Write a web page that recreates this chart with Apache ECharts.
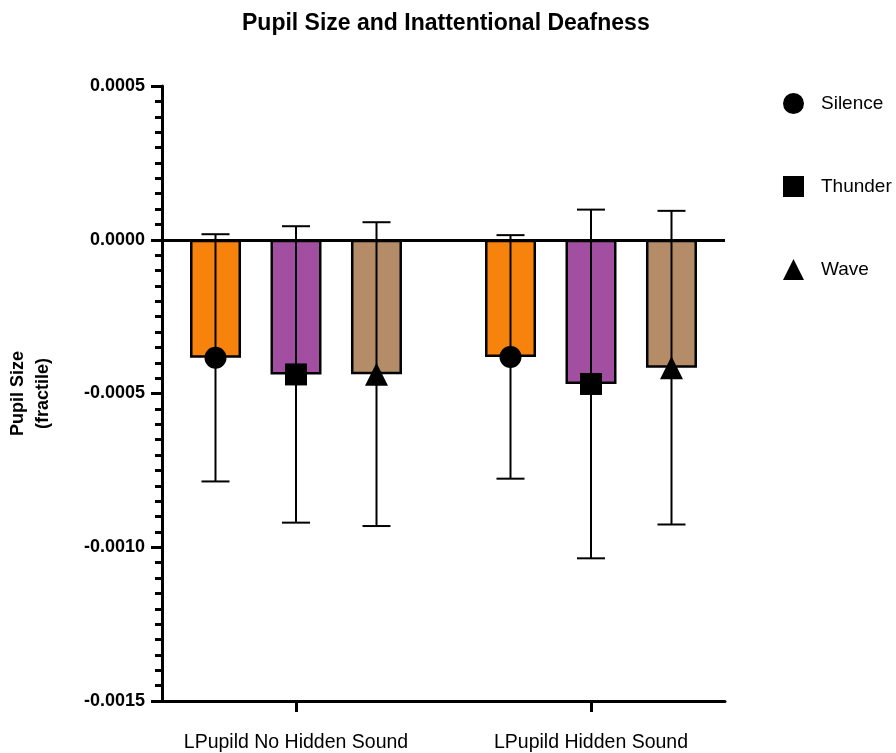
<!DOCTYPE html>
<html>
<head>
<meta charset="utf-8">
<script src="https://cdn.jsdelivr.net/npm/echarts@6/dist/echarts.min.js"></script>
<style>html,body{margin:0;padding:0;background:#fff;}#c{width:896px;height:753px;}</style>
</head>
<body>
<div id="c"></div>
<script>
const categories = ['LPupild No Hidden Sound', 'LPupild Hidden Sound'];
const seriesNames = ['Silence', 'Thunder', 'Wave'];
const silenceMean = [-0.000384, -0.000381];
const silenceErr = [0.000402, 0.000396];
const thunderMean = [-0.000438, -0.000469];
const thunderErr = [0.000482, 0.000567];
const waveMean = [-0.000437, -0.000416];
const waveErr = [0.000494, 0.000510];
const yTicks = [-0.0015, -0.0010, -0.0005, 0.0000, 0.0005];

const means = [silenceMean, thunderMean, waveMean];
const errs = [silenceErr, thunderErr, waveErr];
const colors = ['#F8830C', '#A24FA2', '#B48D68'];
const symbols = ['circle', 'rect', 'triangle'];
const symSizes = [22, 22, 23];
const offsets = [-80.5, 0, 80.5];
const FONT = 'Arial, "Liberation Sans", Helvetica, sans-serif';

const chart = echarts.init(document.getElementById('c'));
const series = [];
seriesNames.forEach((name, i) => {
  const bar = {
    name: name + ' bar',
    type: 'bar',
    barWidth: 51,
    barGap: '57.8%',
    data: categories.map((c, j) => [j + 1, means[i][j]]),
    itemStyle: { color: colors[i], borderColor: '#000', borderWidth: 2.5 },
    z: 2,
    silent: true
  };
  if (i === 0) {
    bar.markLine = {
      silent: true,
      symbol: 'none',
      label: { show: false },
      lineStyle: { color: '#000', width: 3, type: 'solid' },
      data: [{ yAxis: 0 }],
      z: 5
    };
  }
  series.push(bar);
});
seriesNames.forEach((name, i) => {
  series.push({
    name: name + ' err',
    type: 'custom',
    z: 6,
    silent: true,
    data: categories.map((c, j) => [j + 1, means[i][j], errs[i][j]]),
    renderItem: function (params, api) {
      const x = api.value(0), m = api.value(1), e = api.value(2);
      const top = api.coord([x, m + e]);
      const bot = api.coord([x, m - e]);
      const cx = top[0] + offsets[i];
      const hw = 14;
      const st = { stroke: '#000', lineWidth: 2 };
      return {
        type: 'group',
        children: [
          { type: 'line', shape: { x1: cx, y1: top[1], x2: cx, y2: bot[1] }, style: st },
          { type: 'line', shape: { x1: cx - hw, y1: top[1], x2: cx + hw, y2: top[1] }, style: st },
          { type: 'line', shape: { x1: cx - hw, y1: bot[1], x2: cx + hw, y2: bot[1] }, style: st }
        ]
      };
    }
  });
});
seriesNames.forEach((name, i) => {
  series.push({
    name: name,
    type: 'scatter',
    symbol: symbols[i],
    symbolSize: symSizes[i],
    symbolOffset: [offsets[i], 0],
    itemStyle: { color: '#000', opacity: 1 },
    z: 7,
    silent: true,
    data: categories.map((c, j) => [j + 1, means[i][j]])
  });
});

const option = {
  animation: false,
  backgroundColor: '#fff',
  title: {
    text: 'Pupil Size and Inattentional Deafness',
    left: 237,
    top: 7,
    textStyle: { fontFamily: FONT, fontSize: 23, fontWeight: 'bold', color: '#000' }
  },
  legend: {
    orient: 'vertical',
    left: 778,
    top: 88,
    itemWidth: 21,
    itemHeight: 21,
    itemGap: 62,
    selectedMode: false,
    data: seriesNames.map((n, i) => ({ name: n, icon: symbols[i], itemStyle: { color: '#000', opacity: 1 } })),
    textStyle: { fontFamily: FONT, fontSize: 19, color: '#000', padding: [0, 0, 0, 12] }
  },
  grid: { left: 162, right: 171, top: 86, bottom: 52, containLabel: false, outerBoundsMode: 'none' },
  xAxis: {
    type: 'value',
    min: 1 - 134 / 295,
    max: 2 + 134 / 295,
    splitLine: { show: false },
    axisLine: { show: true, onZero: false, lineStyle: { color: '#000', width: 3 } },
    axisTick: { show: true, customValues: [1, 2], length: 11, lineStyle: { color: '#000', width: 3 } },
    axisLabel: {
      customValues: [1, 2],
      formatter: v => categories[Math.round(v) - 1] || '',
      margin: 32,
      fontFamily: FONT, fontSize: 19.5, color: '#000'
    }
  },
  yAxis: {
    type: 'value',
    min: yTicks[0],
    max: yTicks[yTicks.length - 1],
    interval: 0.0005,
    name: 'Pupil Size\n(fractile)',
    nameLocation: 'middle',
    nameGap: 106,
    nameTextStyle: { fontFamily: FONT, fontSize: 18, fontWeight: 'bold', color: '#000', lineHeight: 25 },
    splitLine: { show: false },
    axisLine: { show: true, onZero: false, lineStyle: { color: '#000', width: 3 } },
    axisTick: { show: true, length: 11, lineStyle: { color: '#000', width: 3 } },
    minorTick: { show: true, splitNumber: 10, length: 7, lineStyle: { color: '#000', width: 3 } },
    minorSplitLine: { show: false },
    axisLabel: {
      margin: 17,
      fontFamily: FONT, fontSize: 18, fontWeight: 'bold', color: '#000',
      formatter: v => (Math.abs(v) < 1e-12 ? 0 : v).toFixed(4)
    }
  },
  series: series
};
chart.setOption(option);
</script>
</body>
</html>
